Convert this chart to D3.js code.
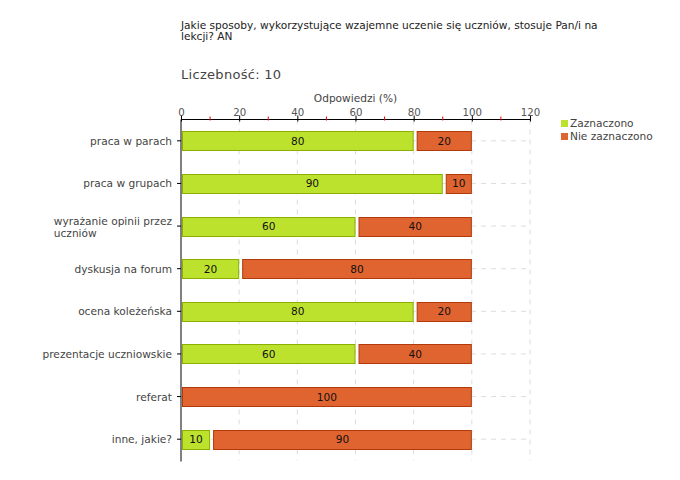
<!DOCTYPE html>
<html><head><meta charset="utf-8">
<script src="https://cdn.jsdelivr.net/npm/d3@7"></script>
<style>body{margin:0;background:#fff;} text{font-family:"DejaVu Sans",Verdana,sans-serif;}</style>
</head><body>
<svg id="c" width="680" height="480"></svg>
<script>
const categories = [["praca w parach"],["praca w grupach"],["wyrażanie opinii przez","uczniów"],["dyskusja na forum"],["ocena koleżeńska"],["prezentacje uczniowskie"],["referat"],["inne, jakie?"]];
const zaznaczono = [80,90,60,20,80,60,0,10];
const nieZaznaczono = [20,10,40,80,20,40,100,90];
const xTicks = [0,20,40,60,80,100,120];
const minorTicks = [10,30,50,70,90,110];
const seriesNames = ["Zaznaczono","Nie zaznaczono"];
const colors = ["#bde22e","#e06430"];
const strokes = ["#8db000","#b03a0c"];

const fs = 10.6;
const svg = d3.select("#c");
const pL = 181, pR = 530, pT = 119.5, pB = 460.5;
const x = d3.scaleLinear().domain([0,120]).range([pL,pR]);
const y = d3.scaleBand().domain(d3.range(categories.length)).range([pT,pB]);

svg.append("text").attr("x",181).attr("y",29).attr("font-size",fs).attr("fill","#222").text("Jakie sposoby, wykorzystujące wzajemne uczenie się uczniów, stosuje Pan/i na");
svg.append("text").attr("x",181).attr("y",40).attr("font-size",fs).attr("fill","#222").text("lekcji? AN");
svg.append("text").attr("x",181).attr("y",79).attr("font-size",13).attr("fill","#444").attr("letter-spacing",0.3).text("Liczebność: 10");
svg.append("text").attr("x",(pL+pR)/2).attr("y",101.5).attr("text-anchor","middle").attr("font-size",fs).attr("fill","#444").text("Odpowiedzi (%)");

// grid
const g = svg.append("g");
xTicks.slice(1).forEach(t=>{
  g.append("line").attr("x1",x(t)).attr("x2",x(t)).attr("y1",pT).attr("y2",pB).attr("stroke","#ddd").attr("stroke-dasharray","5,5");
});
categories.forEach((c,i)=>{
  const cy = y(i)+y.bandwidth()/2;
  g.append("line").attr("x1",pL).attr("x2",pR).attr("y1",cy).attr("y2",cy).attr("stroke","#ddd").attr("stroke-dasharray","5,5");
});

// bars
const bh = 19, gap = 3;
categories.forEach((c,i)=>{
  const cy = y(i)+y.bandwidth()/2;
  const vals = [zaznaczono[i], nieZaznaczono[i]];
  let cum = 0;
  vals.forEach((v,k)=>{
    if(v<=0) return;
    const x0 = x(cum) + (cum===0?1:gap), x1 = x(cum+v);
    svg.append("rect").attr("x",x0+0.5).attr("y",Math.round(cy-bh/2)+0.5).attr("width",x1-x0-1).attr("height",bh)
      .attr("fill",colors[k]).attr("stroke",strokes[k]).attr("stroke-width",1);
    svg.append("text").attr("x",(x0+x1)/2).attr("y",cy+4).attr("text-anchor","middle").attr("font-size",fs).attr("fill","#111").text(v);
    cum += v;
  });
});

// axes
const ax = svg.append("g").attr("transform",`translate(0,${pT})`).call(d3.axisTop(x).tickValues(xTicks).tickSize(4).tickPadding(0));
ax.select(".domain").attr("stroke","#000").attr("d",`M${pL},0H${pR}`);
ax.selectAll(".tick line").attr("stroke","#000").attr("y2",-4).attr("y1",2);
ax.selectAll("text").attr("font-size",10.2).attr("fill","#555").attr("font-family","DejaVu Sans").attr("y",-4);
minorTicks.forEach(t=>{
  svg.append("line").attr("x1",x(t)).attr("x2",x(t)).attr("y1",pT-3).attr("y2",pT+1).attr("stroke","#e00");
});
svg.append("line").attr("x1",pL).attr("x2",pL).attr("y1",pT).attr("y2",pB+1).attr("stroke","#000");
categories.forEach((c,i)=>{
  const cy = y(i)+y.bandwidth()/2;
  svg.append("line").attr("x1",pL-4).attr("x2",pL).attr("y1",cy).attr("y2",cy).attr("stroke","#000");
  if(c.length===1){
    svg.append("text").attr("x",172).attr("y",cy+4).attr("text-anchor","end").attr("font-size",fs).attr("fill","#444").text(c[0]);
  } else {
    const t1 = svg.append("text").attr("x",172).attr("y",cy-1).attr("text-anchor","end").attr("font-size",fs).attr("fill","#444").text(c[0]);
    const w = t1.node().getComputedTextLength();
    svg.append("text").attr("x",172-w).attr("y",cy+10.5).attr("font-size",fs).attr("fill","#444").text(c[1]);
  }
});

// legend
seriesNames.forEach((n,k)=>{
  svg.append("rect").attr("x",561).attr("y",120+k*13).attr("width",7).attr("height",7).attr("fill",colors[k]);
  svg.append("text").attr("x",570).attr("y",127+k*13).attr("font-size",fs).attr("fill","#444").text(n);
});
</script>
</body></html>
